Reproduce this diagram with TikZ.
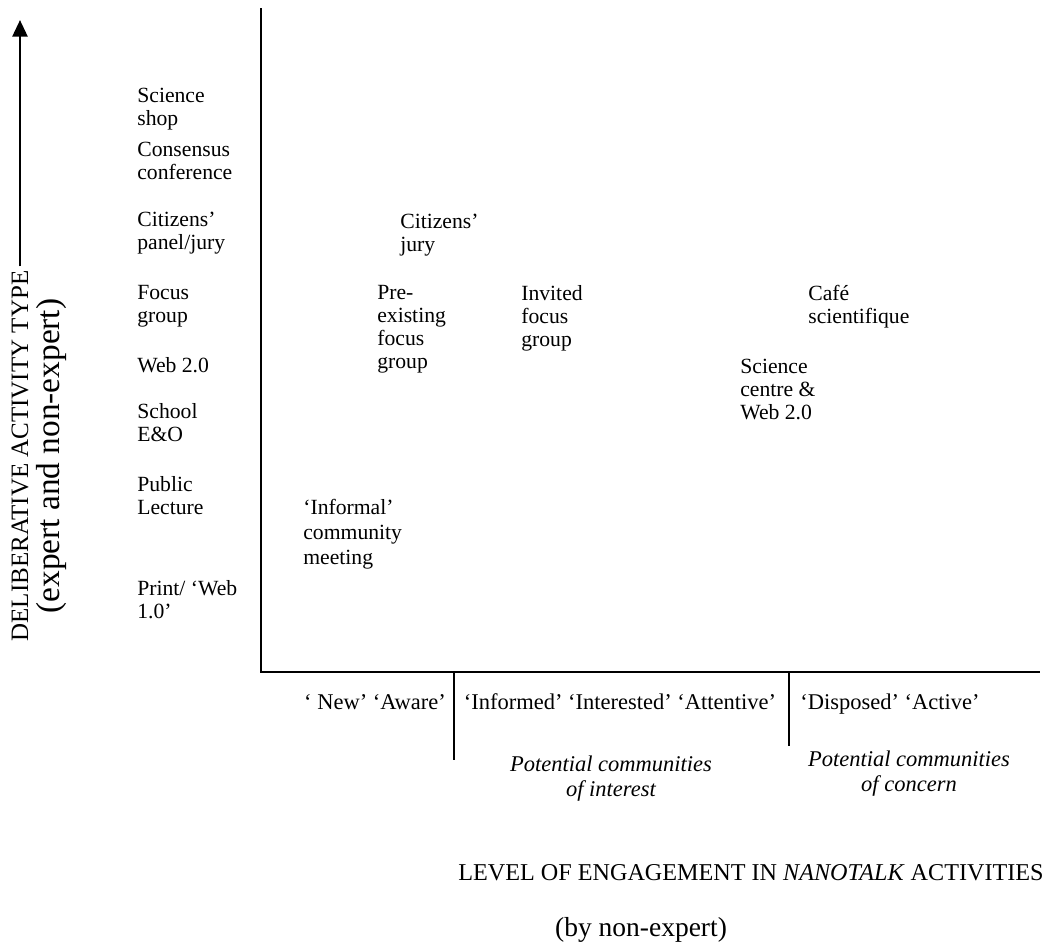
\documentclass[tikz,border=0pt]{standalone}
\usepackage{fontspec}
\setmainfont{Liberation Serif}
\usetikzlibrary{arrows.meta}
\tikzset{
		lbl/.style={anchor=north west, inner sep=0pt, align=left,
			font=\fontsize{13}{13.8}\selectfont, execute at begin node=\strut},
		stage/.style={anchor=base, inner sep=0pt, font=\fontsize{13.5}{15}\selectfont},
		community/.style={anchor=north, inner sep=0pt, align=center,
			font=\fontsize{13.5}{14.5}\selectfont\itshape, execute at begin node=\strut},
		axis/.style={line width=1.2pt},
		axistitle/.style={anchor=base, inner sep=0pt, font=\fontsize{14.5}{17}\selectfont},
		bigtitle/.style={anchor=base, inner sep=0pt, font=\fontsize{16.5}{19}\selectfont}
	}
\begin{document}
\begin{tikzpicture}[x=0.6pt, y=-0.6pt]
				\useasboundingbox (0,0) rectangle (1051,949);

				% axes
				\coordinate (ytop)   at (261,8);
				\coordinate (origin) at (261,672);
				\coordinate (xend)   at (1040,672);
				\coordinate (sep1)   at (454,672);
				\coordinate (sep1b)  at (454,760);
				\coordinate (sep2)   at (789,672);
				\coordinate (sep2b)  at (789,746);
				\draw[axis] (ytop) -- (origin) -- (xend);
				\draw[axis] (sep1) -- (sep1b);
				\draw[axis] (sep2) -- (sep2b);

				% activity types
				\node[lbl] (shop)    at (137,88)  {Science\\shop};
				\node[lbl] (conf)    at (137,142) {Consensus\\conference};
				\node[lbl] (panel)   at (137,212) {Citizens’\\panel/jury};
				\node[lbl] (focus)   at (137,285) {Focus\\group};
				\node[lbl] (webtwo)  at (137,356) {Web 2.0};
				\node[lbl] (school)  at (137,403) {School\\E\&O};
				\node[lbl] (lecture) at (137,476) {Public\\Lecture};
				\node[lbl] (print)   at (137,580) {Print/ ‘Web\\1.0’};

				% activities
				\node[lbl] (jury)     at (400,214) {Citizens’\\jury};
				\node[lbl] (preex)    at (377,285) {Pre-\\existing\\focus\\group};
				\node[lbl] (invited)  at (521,285) {Invited\\focus\\group};
				\node[lbl] (cafe)     at (808,285) {Café\\scientifique};
				\node[lbl] (centre)   at (740,359) {Science\\centre \&\\Web 2.0};
				\node[lbl, font=\fontsize{13}{15}\selectfont] (informal) at (303,499) {‘Informal’\\community\\meeting};

				% stages
				\node[stage] (newaware) at (375,709) {‘ New’ ‘Aware’};
				\node[stage] (informed) at (620,709) {‘Informed’ ‘Interested’ ‘Attentive’};
				\node[stage] (disposed) at (890,709) {‘Disposed’ ‘Active’};
				\node[community] (interest) at (611,756) {Potential communities\\of interest};
				\node[community] (concern)  at (909,751) {Potential communities\\of concern};

				% axis titles
				\node[axistitle] (xtitle) at (751,880) {LEVEL OF ENGAGEMENT IN \textit{NANOTALK} ACTIVITIES};
				\node[bigtitle] (xsub) at (641,936) {(by non-expert)};
				\node[axistitle, font=\fontsize{15}{17}\selectfont, rotate=90] (ytitle) at (28,456) {DELIBERATIVE ACTIVITY TYPE};
				\node[bigtitle, font=\fontsize{20}{23}\selectfont, rotate=90] (ysub) at (59,456) {(expert and non-expert)};
				\coordinate (arrowtip) at (20,20);
				\draw[-{Triangle[length=10pt,width=9pt]}, line width=1.6pt]
					(ytitle.east -| arrowtip) ++(0,-4) -- (arrowtip);
			\end{tikzpicture}
\end{document}
